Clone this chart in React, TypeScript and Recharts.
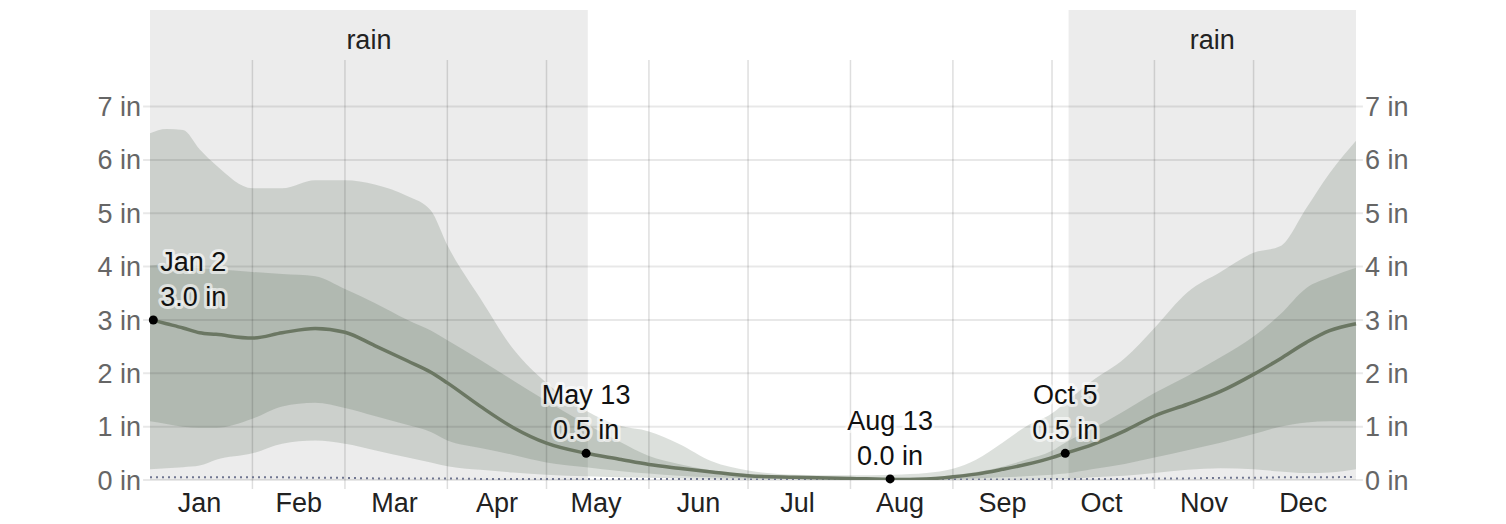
import React from "react";
import {
  ComposedChart,
  Area,
  Line,
  XAxis,
  YAxis,
  ReferenceArea,
  ReferenceLine,
  ReferenceDot,
} from "recharts";

// day of year (Jan 1 = 0)
const days = [0, 5, 10, 15, 20, 31, 40, 50, 59, 68, 78, 85, 90, 100, 110, 120, 132, 142, 151, 160, 170, 181, 195, 212, 225, 235, 243, 250, 258, 265, 273, 277, 285, 295, 304, 314, 324, 334, 342, 350, 357, 365];

// monthly rainfall percentiles (inches)
const p90 = [6.5, 6.58, 6.56, 6.2, 5.9, 5.47, 5.47, 5.62, 5.62, 5.54, 5.32, 5.05, 4.4, 3.4, 2.45, 1.82, 1.3, 1.02, 0.91, 0.68, 0.35, 0.18, 0.1, 0.09, 0.1, 0.13, 0.21, 0.38, 0.7, 1.0, 1.25, 1.45, 1.85, 2.28, 2.85, 3.52, 3.9, 4.26, 4.38, 5.1, 5.75, 6.36];
const p75 = [4.02, 4.04, 4.0, 3.97, 3.95, 3.9, 3.86, 3.82, 3.58, 3.32, 3.0, 2.8, 2.62, 2.25, 1.86, 1.48, 1.05, 0.72, 0.45, 0.3, 0.18, 0.1, 0.06, 0.04, 0.04, 0.05, 0.09, 0.15, 0.25, 0.38, 0.55, 0.7, 0.95, 1.3, 1.63, 1.95, 2.3, 2.69, 3.1, 3.6, 3.8, 3.98];
const p50 = [3.01, 2.93, 2.85, 2.76, 2.73, 2.66, 2.76, 2.84, 2.77, 2.52, 2.23, 2.02, 1.82, 1.38, 0.98, 0.69, 0.5, 0.39, 0.29, 0.22, 0.15, 0.08, 0.05, 0.03, 0.01, 0.02, 0.06, 0.11, 0.2, 0.29, 0.42, 0.5, 0.66, 0.92, 1.2, 1.42, 1.66, 1.98, 2.27, 2.58, 2.8, 2.93];
const p25 = [1.1, 1.05, 1.0, 0.98, 0.98, 1.15, 1.38, 1.45, 1.35, 1.2, 1.03, 0.9, 0.74, 0.6, 0.47, 0.33, 0.24, 0.17, 0.12, 0.08, 0.05, 0.03, 0.02, 0.01, 0.01, 0.01, 0.02, 0.03, 0.05, 0.07, 0.1, 0.12, 0.2, 0.3, 0.42, 0.56, 0.7, 0.86, 1.0, 1.08, 1.1, 1.1];
const p10 = [0.2, 0.22, 0.24, 0.27, 0.38, 0.5, 0.68, 0.74, 0.68, 0.56, 0.42, 0.33, 0.26, 0.19, 0.14, 0.1, 0.07, 0.05, 0.04, 0.03, 0.02, 0.01, 0.01, 0.0, 0.0, 0.0, 0.0, 0.01, 0.01, 0.01, 0.02, 0.02, 0.05, 0.08, 0.13, 0.19, 0.22, 0.2, 0.16, 0.13, 0.14, 0.2];
const trace = [0.05, 0.05, 0.05, 0.05, 0.05, 0.05, 0.05, 0.04, 0.04, 0.03, 0.03, 0.03, 0.03, 0.02, 0.02, 0.02, 0.02, 0.02, 0.02, 0.02, 0.02, 0.01, 0.01, 0.01, 0.01, 0.01, 0.01, 0.01, 0.01, 0.01, 0.02, 0.02, 0.02, 0.02, 0.03, 0.03, 0.04, 0.04, 0.05, 0.05, 0.05, 0.06];

const monthTicks = [15, 45, 74, 105, 135, 166, 196, 227, 258, 288, 319, 349];
const monthLabels = ["Jan", "Feb", "Mar", "Apr", "May", "Jun", "Jul", "Aug", "Sep", "Oct", "Nov", "Dec"];
const monthStarts = [31, 59, 90, 120, 151, 181, 212, 243, 273, 304, 334];
const inchTicks = [0, 1, 2, 3, 4, 5, 6, 7];

const rainSeasons = [
  [0, 132.5],
  [278, 365],
];

const noteDays = [1, 132, 224, 277];
const noteValues = [3.0, 0.5, 0.02, 0.5];
const noteDates = ["Jan 2", "May 13", "Aug 13", "Oct 5"];

const data = days.map((d, i) => ({
  day: d,
  outer: [p10[i], p90[i]],
  inner: [p25[i], p75[i]],
  median: p50[i],
  trace: trace[i],
}));

const FONT = "'Liberation Sans', Arial, sans-serif";
const BAND = "rgb(48,71,46)";

const noteLabel = (date: string, value: number, anchor: "start" | "middle") =>
  (props: any) => {
    const vb = props.viewBox || {};
    const cx = vb.x + vb.width / 2;
    const cy = vb.y + vb.height / 2;
    const x = anchor === "start" ? cx + 7 : cx;
    const common = {
      x,
      textAnchor: anchor,
      fontSize: 27,
      fill: "#111",
      stroke: "rgba(255,255,255,0.6)",
      strokeWidth: 6,
      strokeLinejoin: "round" as const,
      paintOrder: "stroke",
      fontFamily: FONT,
    };
    return (
      <g>
        <text {...common} y={cy - 49}>{date}</text>
        <text {...common} y={cy - 14}>{value.toFixed(1) + " in"}</text>
      </g>
    );
  };

export default function App() {
  return (
    <div style={{ position: "absolute", left: 0, top: 0, fontFamily: FONT }}>
      <ComposedChart
        width={1506}
        height={524}
        data={data}
        margin={{ top: 10, right: 0, bottom: 0, left: 0 }}
      >
        <XAxis
          dataKey="day"
          type="number"
          domain={[0, 365]}
          ticks={monthTicks}
          tickFormatter={(v: number) => monthLabels[monthTicks.indexOf(v)]}
          axisLine={false}
          tickLine={false}
          tickMargin={7}
          height={44}
          tick={{ fill: "#222", fontSize: 27 }}
        />
        <YAxis
          yAxisId="l"
          orientation="left"
          width={150}
          domain={[0, 8.81]}
          ticks={inchTicks}
          tickFormatter={(v: number) => `${v} in`}
          axisLine={false}
          tickLine={false}
          tickMargin={3}
          tick={{ fill: "#666", fontSize: 27 }}
          allowDataOverflow
        />
        <YAxis
          yAxisId="r"
          orientation="right"
          width={150}
          domain={[0, 8.81]}
          ticks={inchTicks}
          tickFormatter={(v: number) => `${v} in`}
          axisLine={false}
          tickLine={false}
          tickMargin={3}
          tick={{ fill: "#666", fontSize: 27 }}
          allowDataOverflow
        />
        {rainSeasons.map(([a, b], i) => (
          <ReferenceArea
            key={"rain" + i}
            yAxisId="l"
            x1={a}
            x2={b}
            y1={0}
            y2={8.81}
            fill="#000"
            fillOpacity={0.076}
            stroke="none"
            label={{ value: "rain", position: "insideTop", offset: 20, fill: "#222", fontSize: 27 }}
          />
        ))}
        <Area
          yAxisId="l"
          dataKey="outer"
          type="monotone"
          stroke="none"
          fill={BAND}
          fillOpacity={0.17}
          isAnimationActive={false}
        />
        <Area
          yAxisId="l"
          dataKey="inner"
          type="monotone"
          stroke="none"
          fill={BAND}
          fillOpacity={0.17}
          isAnimationActive={false}
        />
        {inchTicks.map((t) => (
          <ReferenceLine
            key={"h" + t}
            yAxisId="l"
            segment={[{ x: -2.1, y: t }, { x: 367.1, y: t }]}
            stroke="#000"
            strokeOpacity={0.09}
            strokeWidth={2}
            ifOverflow="visible"
          />
        ))}
        {monthStarts.map((d) => (
          <ReferenceLine
            key={"v" + d}
            yAxisId="l"
            segment={[{ x: d, y: -0.17 }, { x: d, y: 7.875 }]}
            stroke="#000"
            strokeOpacity={0.13}
            strokeWidth={1.5}
            ifOverflow="visible"
          />
        ))}
        <Line
          yAxisId="l"
          dataKey="trace"
          type="linear"
          stroke="#6f7590"
          strokeWidth={2}
          strokeDasharray="2 4"
          dot={false}
          isAnimationActive={false}
        />
        <Line
          yAxisId="l"
          dataKey="median"
          type="monotone"
          stroke="#6b7763"
          strokeWidth={3.5}
          dot={false}
          isAnimationActive={false}
        />
        {noteDays.map((d, i) => (
          <ReferenceDot
            key={"n" + i}
            yAxisId="l"
            x={d}
            y={noteValues[i]}
            r={4.5}
            fill="#000"
            stroke="none"
            ifOverflow="visible"
            label={{ content: noteLabel(noteDates[i], noteValues[i], i === 0 ? "start" : "middle") }}
          />
        ))}
      </ComposedChart>
    </div>
  );
}
